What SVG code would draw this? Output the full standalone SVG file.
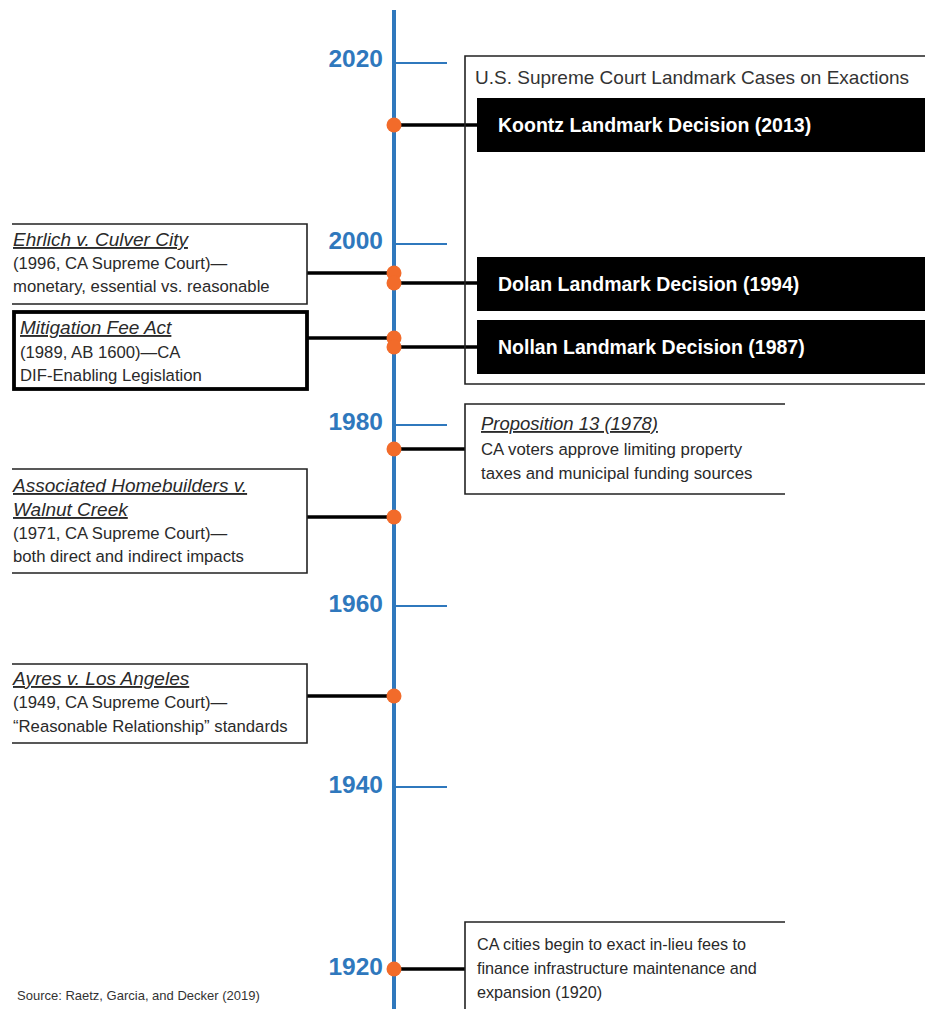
<svg xmlns="http://www.w3.org/2000/svg" width="925" height="1009" viewBox="0 0 925 1009">
<style>
.axis{stroke:#2f78bd;stroke-width:4;fill:none}
.tick{stroke:#2f78bd;stroke-width:2;fill:none}
.year{font-family:"Liberation Sans",Arial,sans-serif;font-weight:bold;font-size:24.5px;fill:#2f78bd;text-anchor:end}
.conn{stroke:#000;stroke-width:3.5;fill:none}
.dot{fill:#f26b2a}
.frame{stroke:#222;stroke-width:1.6;fill:none}
.thick{stroke:#000;stroke-width:3.8;fill:none}
.t{font-family:"Liberation Sans",Arial,sans-serif;font-size:16.7px;fill:#2a2a2a}
.ti{font-family:"Liberation Sans",Arial,sans-serif;font-size:19px;font-style:italic;text-decoration:underline;fill:#2a2a2a}
.st{font-family:"Liberation Sans",Arial,sans-serif;font-size:16.8px;fill:#2a2a2a}
.sc{font-family:"Liberation Sans",Arial,sans-serif;font-size:16.2px;fill:#2a2a2a}
.sti{font-family:"Liberation Sans",Arial,sans-serif;font-size:18.5px;font-style:italic;text-decoration:underline;fill:#2a2a2a}
.blk{fill:#000}
.bt{font-family:"Liberation Sans",Arial,sans-serif;font-weight:bold;font-size:19.5px;fill:#fff}
</style>
<rect width="925" height="1009" fill="#fff"/>
<g id="axis">
<line class="axis" x1="394" y1="10" x2="394" y2="1009"/>
<line class="tick" x1="394" y1="63" x2="447" y2="63"/>
<line class="tick" x1="394" y1="244" x2="447" y2="244"/>
<line class="tick" x1="394" y1="425" x2="447" y2="425"/>
<line class="tick" x1="394" y1="606" x2="447" y2="606"/>
<line class="tick" x1="394" y1="787" x2="447" y2="787"/>
<text class="year" x="383" y="67">2020</text>
<text class="year" x="383" y="249">2000</text>
<text class="year" x="383" y="430">1980</text>
<text class="year" x="383" y="612">1960</text>
<text class="year" x="383" y="793">1940</text>
<text class="year" x="383" y="975">1920</text>
</g>
<g id="connectors">
<line class="conn" x1="394" y1="125" x2="477" y2="125"/>
<line class="conn" x1="307" y1="273" x2="394" y2="273"/>
<line class="conn" x1="394" y1="283" x2="477" y2="283"/>
<line class="conn" x1="307" y1="338" x2="394" y2="338"/>
<line class="conn" x1="394" y1="347" x2="477" y2="347"/>
<line class="conn" x1="394" y1="449" x2="465" y2="449"/>
<line class="conn" x1="307" y1="517" x2="394" y2="517"/>
<line class="conn" x1="307" y1="696" x2="394" y2="696"/>
<line class="conn" x1="394" y1="969" x2="465" y2="969"/>
<circle class="dot" cx="394" cy="125" r="7.5"/>
<circle class="dot" cx="394" cy="273" r="7.5"/>
<circle class="dot" cx="394" cy="283" r="7.5"/>
<circle class="dot" cx="394" cy="338" r="7.5"/>
<circle class="dot" cx="394" cy="347" r="7.5"/>
<circle class="dot" cx="394" cy="449" r="7.5"/>
<circle class="dot" cx="394" cy="517" r="7.5"/>
<circle class="dot" cx="394" cy="696" r="7.5"/>
<circle class="dot" cx="394" cy="969" r="7.5"/>
</g>
<g id="supreme-court">
<path class="frame" d="M925 56H465V384H925"/>
<text x="475" y="84" style="font-family:'Liberation Sans',Arial,sans-serif;font-size:19px;fill:#333">U.S. Supreme Court Landmark Cases on Exactions</text>
</g>
<g id="koontz">
<rect class="blk" x="477" y="98" width="448" height="54"/>
<text class="bt" x="498" y="132">Koontz Landmark Decision (2013)</text>
</g>
<g id="dolan">
<rect class="blk" x="477" y="257" width="448" height="54"/>
<text class="bt" x="498" y="291">Dolan Landmark Decision (1994)</text>
</g>
<g id="nollan">
<rect class="blk" x="477" y="320" width="448" height="54"/>
<text class="bt" x="498" y="354">Nollan Landmark Decision (1987)</text>
</g>
<g id="ehrlich">
<path class="frame" d="M12 224H307V304H12"/>
<text class="ti" x="13" y="246">Ehrlich v. Culver City</text>
<text class="t" x="13" y="269">(1996, CA Supreme Court)—</text>
<text class="t" x="13" y="292">monetary, essential vs. reasonable</text>
</g>
<g id="mitigation">
<rect class="thick" x="14" y="312" width="293" height="77"/>
<text class="ti" x="20" y="334">Mitigation Fee Act</text>
<text class="t" x="20" y="358">(1989, AB 1600)—CA</text>
<text class="t" x="20" y="381">DIF-Enabling Legislation</text>
</g>
<g id="proposition13">
<path class="frame" d="M785 404H465V494H785"/>
<text class="sti" x="481" y="430">Proposition 13 (1978)</text>
<text class="st" x="481" y="455">CA voters approve limiting property</text>
<text class="st" x="481" y="479">taxes and municipal funding sources</text>
</g>
<g id="associated">
<path class="frame" d="M12 469H307V573H12"/>
<text class="ti" x="13" y="492">Associated Homebuilders v.</text>
<text class="ti" x="13" y="516">Walnut Creek</text>
<text class="t" x="13" y="539">(1971, CA Supreme Court)—</text>
<text class="t" x="13" y="562">both direct and indirect impacts</text>
</g>
<g id="ayres">
<path class="frame" d="M12 664H307V743H12"/>
<text class="ti" x="13" y="685">Ayres v. Los Angeles</text>
<text class="t" x="13" y="708">(1949, CA Supreme Court)—</text>
<text class="t" x="13" y="732">“Reasonable Relationship” standards</text>
</g>
<g id="in-lieu-fees">
<path class="frame" d="M785 922H465V1009"/>
<text class="sc" x="477" y="950">CA cities begin to exact in-lieu fees to</text>
<text class="sc" x="477" y="974">finance infrastructure maintenance and</text>
<text class="sc" x="477" y="998">expansion (1920)</text>
</g>
<text x="17" y="1000" style="font-family:'Liberation Sans',Arial,sans-serif;font-size:13px;fill:#333">Source: Raetz, Garcia, and Decker (2019)</text>
</svg>
